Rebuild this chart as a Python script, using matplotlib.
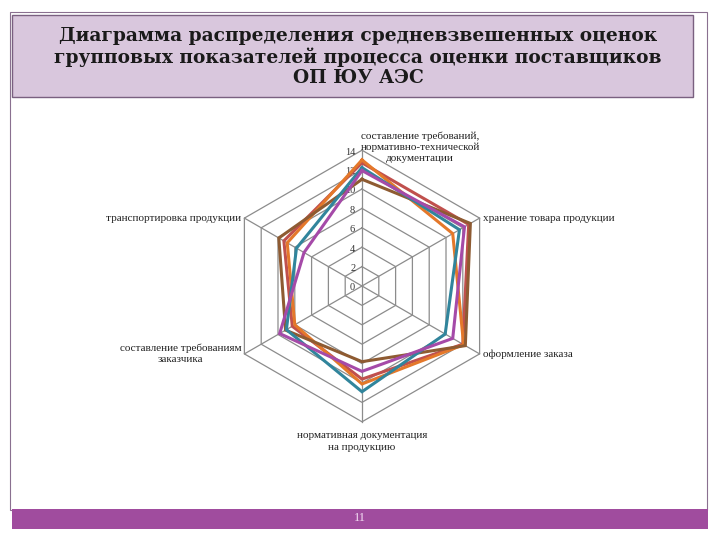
import numpy as np
import matplotlib
matplotlib.use('Agg')
import matplotlib.pyplot as plt
from matplotlib.patches import Rectangle

# axes clockwise from the top
categories = [
    'составление требований,\nнормативно-технической\nдокументации',
    'хранение товара продукции',
    'оформление заказа',
    'нормативная документация\nна продукцию',
    'составление требованиям\nзаказчика',
    'транспортировка продукции',
]
series_red = [12.7, 12.7, 12.0, 9.6, 8.3, 9.3]
series_orange = [13.0, 10.8, 12.1, 10.1, 8.0, 8.9]
series_purple = [11.9, 12.2, 10.8, 8.8, 9.8, 6.9]
series_teal = [12.2, 11.6, 9.9, 10.9, 9.0, 7.8]
series_brown = [11.0, 12.9, 12.3, 7.8, 9.1, 9.9]
ticks = [0, 2, 4, 6, 8, 10, 12, 14]
title = ('Диаграмма распределения средневзвешенных оценок\n'
         'групповых показателей процесса оценки поставщиков\n'
         'ОП ЮУ АЭС')
page_number = '11'

series = [
    (series_red, '#C0504D'),
    (series_orange, '#E4782A'),
    (series_brown, '#8E5B32'),
    (series_teal, '#31859C'),
    (series_purple, '#A54AA8'),
]

serif = ['Liberation Serif', 'DejaVu Serif']

fig = plt.figure(figsize=(7.2, 5.4), dpi=100)

# page decoration in pixel coordinates
bg = fig.add_axes([0, 0, 1, 1])
bg.set_xlim(0, 720)
bg.set_ylim(540, 0)
bg.axis('off')
bg.add_patch(Rectangle((10, 12), 697, 498, fill=False, edgecolor='#8A7090', lw=0.8))
bg.add_patch(Rectangle((12, 15), 681, 82, facecolor='#D9C7DD', edgecolor='#7A6080', lw=1.0))
bg.text(358, 57, title, ha='center', va='center', fontsize=13.4, fontweight='bold',
        family=['DejaVu Serif'], color='#1A1A1A', linespacing=1.18)
bg.add_patch(Rectangle((12, 509), 696, 20, facecolor='#A04C9E', edgecolor='none'))
bg.text(360, 518, page_number, ha='center', va='center', fontsize=9, family=serif,
        color='#F4DDF4')

# radar chart, centre at (362, 286) px, 9.7 px per unit
scale = 9.7
half = 16
w = 2 * half * scale
ax = fig.add_axes([(362 - w / 2) / 720, (540 - 286 - w / 2) / 540, w / 720, w / 540])
ax.set_xlim(-half, half)
ax.set_ylim(-half, half)
ax.set_aspect('equal')
ax.axis('off')

n = len(categories)
angles = np.pi / 2 - np.arange(n) * 2 * np.pi / n
cx, cy = np.cos(angles), np.sin(angles)
rmax = ticks[-1]

for t in ticks[1:]:
    ax.plot(np.append(cx, cx[0]) * t, np.append(cy, cy[0]) * t, color='#8C8C8C', lw=0.9, zorder=1)
for i in range(n):
    ax.plot([0, cx[i] * rmax], [0, cy[i] * rmax], color='#8C8C8C', lw=0.9, zorder=1)

for t in ticks:
    ax.text(-0.7, t - 0.2, str(t), ha='right', va='center', fontsize=7.5, family=serif, color='#333333')

for vals, col in series:
    v = np.array(vals)
    ax.plot(np.append(cx * v, cx[0] * v[0]), np.append(cy * v, cy[0] * v[0]),
            color=col, lw=2.2, zorder=3, solid_joinstyle='miter')

lab_style = dict(fontsize=8, family=serif, color='#222222', linespacing=1.3)
ax.text(6.0, rmax + 0.3, categories[0], ha='center', va='center', **lab_style)
ax.text(cx[1] * rmax + 0.3, cy[1] * rmax, categories[1], ha='left', va='center', **lab_style)
ax.text(cx[2] * rmax + 0.3, cy[2] * rmax, categories[2], ha='left', va='center', **lab_style)
ax.text(0, -rmax - 1.0, categories[3], ha='center', va='top', **lab_style)
ax.text(cx[4] * rmax - 0.3, cy[4] * rmax, categories[4], ha='right', va='center',
        multialignment='center', **lab_style)
ax.text(cx[5] * rmax - 0.3, cy[5] * rmax, categories[5], ha='right', va='center', **lab_style)

fig.savefig('out.png', dpi=100)
